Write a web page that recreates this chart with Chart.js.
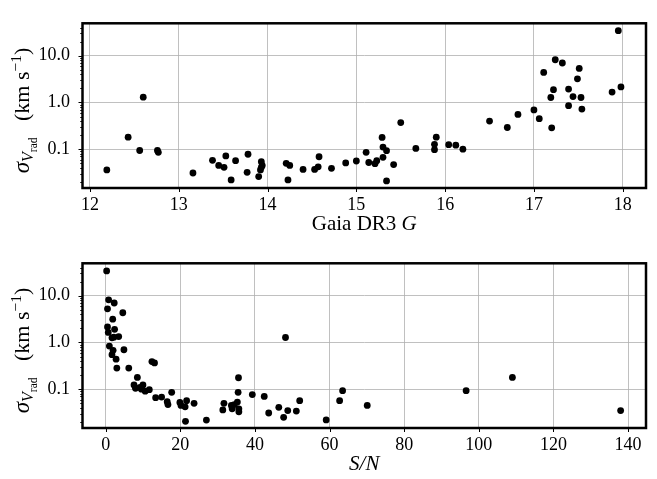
<!DOCTYPE html>
<html><head><meta charset="utf-8">
<script src="https://cdn.jsdelivr.net/npm/chart.js@4/dist/chart.umd.min.js"></script>
<style>
html,body{margin:0;padding:0;background:#fff;}
.w{position:absolute;left:0;width:657px;height:239px;}
#w1{top:0}
#w2{top:240px}
</style></head><body>
<div class="w" id="w1"><canvas id="c1" width="657" height="239"></canvas></div>
<div class="w" id="w2"><canvas id="c2" width="657" height="239"></canvas></div>
<script>
// ---- data (top panel: Gaia DR3 G vs sigma) ----
const gaiaG = [12.19,12.43,12.60,12.56,12.76,12.77,13.16,13.38,13.45,13.51,
  13.53,13.64,13.59,13.78,13.77,13.93,13.93,13.92,13.90,13.94,
  14.21,14.25,14.23,14.40,14.53,14.57,14.58,14.72,14.88,15.00,
  15.11,15.14,15.21,15.23,15.30,15.30,15.29,15.34,15.34,15.42,
  15.50,15.67,15.88,15.88,15.90,16.04,16.12,16.20,16.50,16.70,
  16.82,17.00,17.06,17.20,17.11,17.24,17.32,17.51,17.49,17.22,
  17.19,17.39,17.44,17.53,17.39,17.54,17.88,17.98,17.95];
const sigmaVsG = [0.036,0.181,1.30,0.094,0.094,0.086,0.031,0.058,0.045,0.041,
  0.072,0.057,0.022,0.078,0.032,0.054,0.041,0.036,0.026,0.045,
  0.050,0.045,0.022,0.037,0.037,0.042,0.069,0.039,0.051,0.056,
  0.086,0.052,0.049,0.057,0.067,0.111,0.179,0.093,0.021,0.047,
  0.371,0.104,0.127,0.098,0.181,0.125,0.122,0.100,0.40,0.292,
  0.555,0.693,0.45,0.287,4.40,8.22,7.0,5.35,3.21,1.88,
  1.28,1.94,1.34,1.28,0.855,0.724,1.67,2.15,34.4];
// ---- data (bottom panel: S/N vs sigma) ----
const snr = [0.27,0.8,2.3,0.5,4.6,1.9,0.5,2.4,0.7,3.5,
  1.7,2.2,48.2,1.0,2.0,4.9,1.7,2.8,3.0,6.2,
  12.4,13.1,8.5,35.6,7.6,8.0,9.2,10.0,10.6,11.7,
  9.6,13.4,15.0,17.7,16.5,16.7,19.9,20.2,21.7,21.3,
  23.7,21.4,27.0,31.7,31.4,33.7,33.9,34.5,35.3,35.7,
  35.7,35.5,39.3,42.5,43.7,46.4,47.7,48.8,51.1,52.0,
  59.1,62.7,63.5,70.1,96.6,109.0,138.0];
const sigmaVsSN = [34,8.2,7.0,5.25,4.33,3.16,2.15,1.91,1.64,1.34,
  1.26,1.30,1.28,0.84,0.68,0.70,0.55,0.44,0.283,0.283,
  0.39,0.366,0.179,0.176,0.123,0.105,0.109,0.123,0.091,0.098,
  0.10,0.066,0.068,0.086,0.054,0.047,0.052,0.045,0.057,0.042,
  0.050,0.0206,0.0219,0.050,0.036,0.045,0.038,0.047,0.053,0.038,
  0.033,0.086,0.077,0.070,0.031,0.041,0.025,0.035,0.034,0.057,
  0.022,0.057,0.093,0.045,0.093,0.179,0.035];
// ---- ticks ----
const xTicksTop = [12,13,14,15,16,17,18];
const xTicksBottom = [0,20,40,60,80,100,120,140];
const yTicks = [0.1,1,10];
// ---- titles ----
const xTitleTop = [{t:'Gaia DR3 ', it:false},{t:'G', it:true}];
const xTitleBottom = [{t:'S/N', it:true}];
const yTitleParts = [
  {t:'σ', size:23, it:true, dy:0},
  {t:'V', size:16, it:true, dy:4},
  {t:'rad', size:11.5, it:false, dy:7.5},
  {t:'   (km s', size:22, it:false, dy:0},
  {t:'−1', size:15.5, it:false, dy:-8.5},
  {t:')', size:22, it:false, dy:0}
];

const FONT = 'Liberation Serif';
const Y_MIN = 0.0148, Y_MAX = 49.5;

function fnt(size, it){ return (it ? 'italic ' : '') + size + 'px "' + FONT + '"'; }

const framePlugin = {
  id: 'frame',
  afterDraw(chart, args, opts) {
    const ctx = chart.ctx, a = chart.chartArea;
    const xs = chart.scales.x, ys = chart.scales.y;
    ctx.save();
    ctx.strokeStyle = '#000';
    ctx.lineWidth = 1;
    ctx.beginPath();
    for (const v of opts.xTicks) {
      const px = Math.round(xs.getPixelForValue(v)) + 0.5;
      ctx.moveTo(px, a.bottom); ctx.lineTo(px, a.bottom + 4);
    }
    for (let n = -2; n <= 1; n++) {
      for (let k = 1; k <= 9; k++) {
        const v = k * Math.pow(10, n);
        if (v < Y_MIN || v > Y_MAX) continue;
        const py = Math.round(ys.getPixelForValue(v)) + 0.5;
        const len = k === 1 ? 4 : 2.2;
        ctx.moveTo(a.left, py); ctx.lineTo(a.left - len, py);
      }
    }
    ctx.stroke();
    ctx.lineWidth = 2.5;
    ctx.strokeRect(a.left, a.top, a.right - a.left, a.bottom - a.top);
    // x title
    ctx.fillStyle = '#000';
    ctx.textBaseline = 'alphabetic';
    ctx.textAlign = 'left';
    let tot = 0;
    for (const p of opts.xTitle) { ctx.font = fnt(21, p.it); tot += ctx.measureText(p.t).width; }
    let x0 = (a.left + a.right) / 2 - tot / 2;
    for (const p of opts.xTitle) { ctx.font = fnt(21, p.it); ctx.fillText(p.t, x0, 229.5); x0 += ctx.measureText(p.t).width; }
    // y title (rotated)
    ctx.translate(29, 110.5);
    ctx.rotate(-Math.PI / 2);
    tot = 0;
    for (const p of yTitleParts) { ctx.font = fnt(p.size, p.it); tot += ctx.measureText(p.t).width; }
    let s = -tot / 2;
    for (const p of yTitleParts) { ctx.font = fnt(p.size, p.it); ctx.fillText(p.t, s, p.dy); s += ctx.measureText(p.t).width; }
    ctx.restore();
  }
};

function makeChart(id, xv, yv, xTicks, xmin, xmax, xTitle) {
  return new Chart(document.getElementById(id), {
    type: 'scatter',
    data: { datasets: [{ data: xv.map((x, i) => ({ x: x, y: yv[i] })),
      backgroundColor: '#000', borderColor: '#000', borderWidth: 0, pointRadius: 3.4 }] },
    options: {
      responsive: false, animation: false, devicePixelRatio: 1,
      layout: { padding: { top: 6.5, right: 11, left: 0, bottom: 0 } },
      plugins: { legend: { display: false }, tooltip: { enabled: false },
        frame: { xTicks: xTicks, xTitle: xTitle } },
      scales: {
        x: { type: 'linear', min: xmin, max: xmax,
          afterBuildTicks: s => { s.ticks = xTicks.map(v => ({ value: v })); },
          afterFit: s => { s.height = 51; },
          grid: { color: '#b0b0b0', lineWidth: 0.8, drawTicks: false },
          border: { display: false },
          ticks: { padding: 6, color: '#000', font: { family: FONT, size: 18 }, maxRotation: 0, autoSkip: false,
            callback: v => String(v) } },
        y: { type: 'logarithmic', min: Y_MIN, max: Y_MAX,
          afterBuildTicks: s => { s.ticks = yTicks.map(v => ({ value: v, major: true })); },
          afterFit: s => { s.width = 82.5; },
          grid: { color: '#b0b0b0', lineWidth: 0.8, drawTicks: false },
          border: { display: false },
          ticks: { padding: 12.5, color: '#000', font: { family: FONT, size: 18 }, autoSkip: false,
            callback: v => Number(v).toFixed(1) } }
      }
    },
    plugins: [framePlugin]
  });
}

makeChart('c1', gaiaG, sigmaVsG, xTicksTop, 11.916, 18.262, xTitleTop);
makeChart('c2', snr, sigmaVsSN, xTicksBottom, -6.2, 144.8, xTitleBottom);
</script>
</body></html>
